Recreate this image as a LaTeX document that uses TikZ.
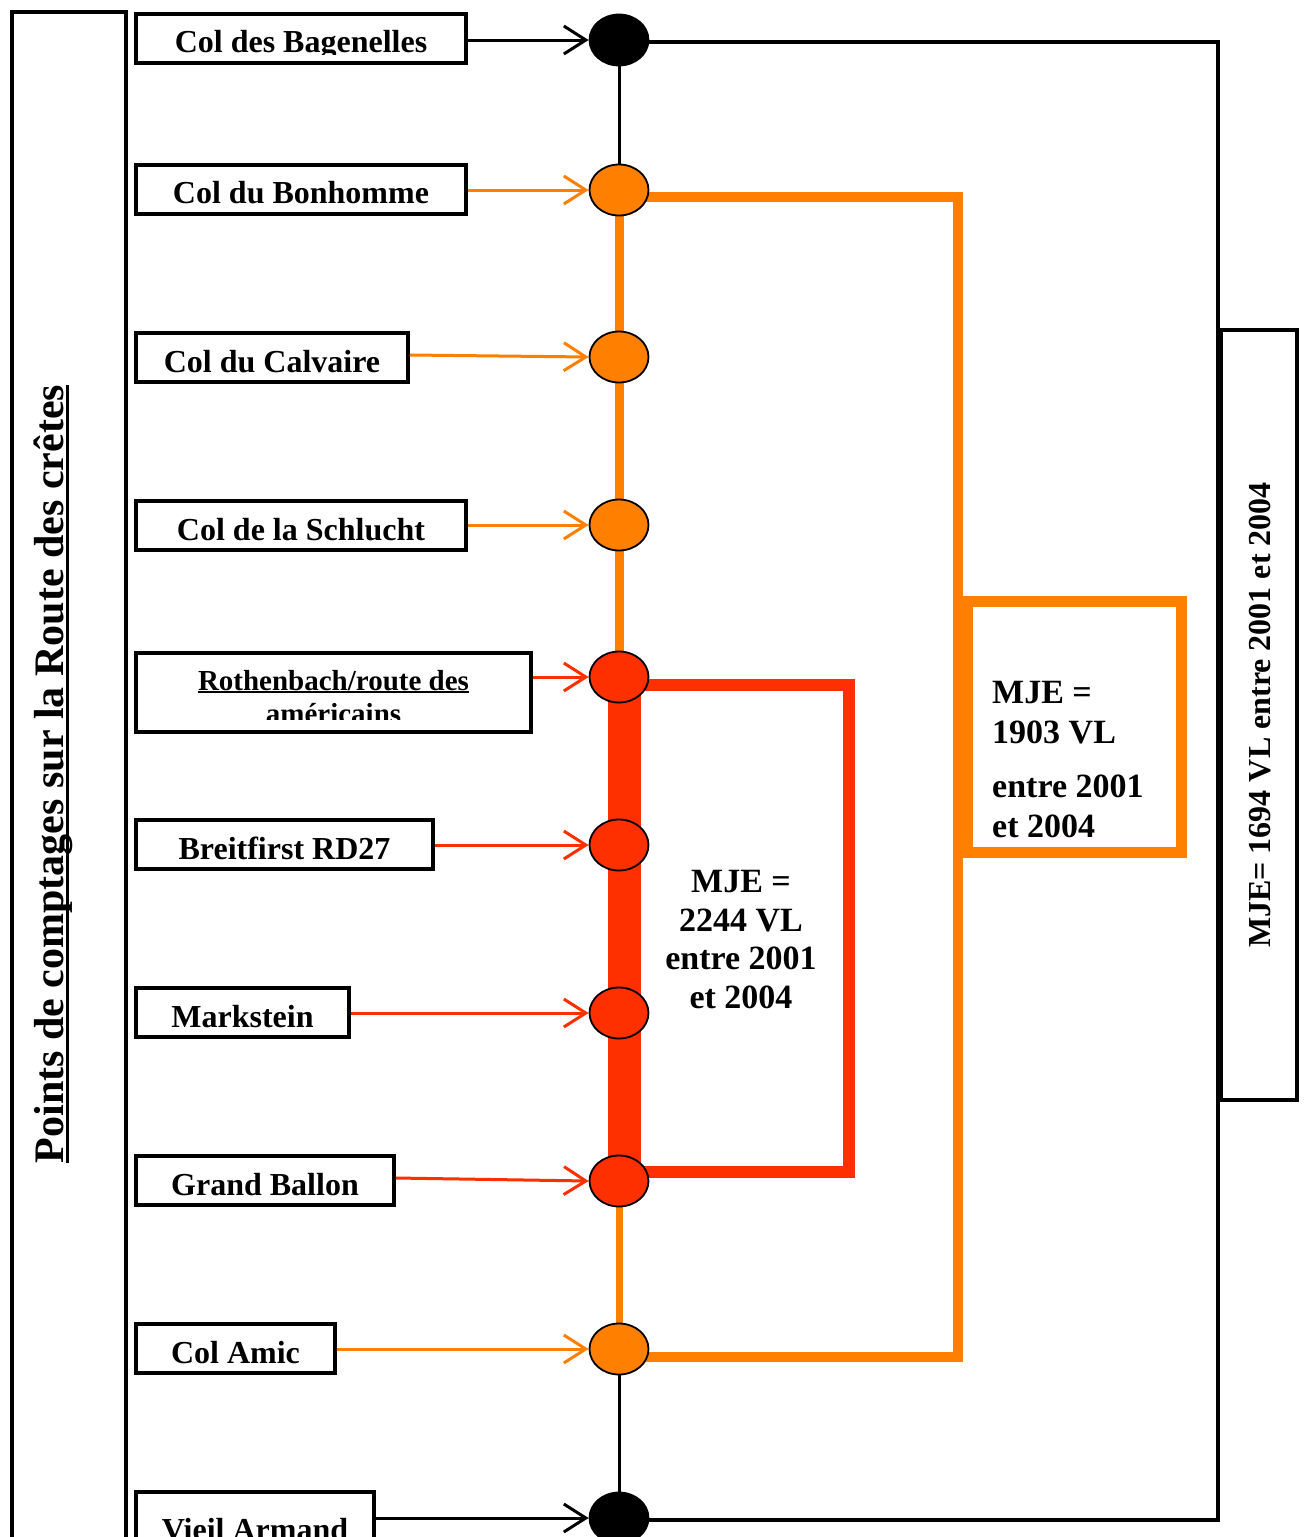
\documentclass[tikz,border=0pt]{standalone}
\usepackage{fontspec}
\setmainfont{Liberation Serif}
\usetikzlibrary{shapes.geometric,arrows.meta}
\definecolor{orng}{RGB}{255,128,0}
\definecolor{rd}{RGB}{255,48,0}
\newcommand\myul[3]{\setbox0\hbox{#3}\rlap{\rule[-#1]{\wd0}{#2}}\box0}
\newcommand\labfont{\fontsize{32}{38}\selectfont\bfseries}
% clipped label: x1, x2, top, baseline, name, text
\newcommand\cliptext[6]{\begin{scope}\clip (#1,#3) rectangle (#2,#4+2);
  \node[anchor=base, inner sep=0pt, font=\labfont] (#5) at ({(#1+#2)/2},#4) {#6};\end{scope}}
\begin{document}
\begin{tikzpicture}[x=1pt,y=-1pt,
  lbox/.style={draw, line width=3.5pt, rectangle, inner sep=0pt},
  pnt/.style={ellipse, draw, line width=1.8pt, minimum width=59pt, minimum height=51pt, inner sep=0pt},
  arr/.style={-{Straight Barb[length=22pt,width=28pt]}, line width=3pt},
  bigtxt/.style={font=\fontsize{34}{38.5}\selectfont\bfseries, inner sep=0pt}]
\useasboundingbox[fill=white] (0,0) rectangle (1304,1537);

% left title box
\node[lbox, line width=4pt, minimum width=114pt, minimum height=1550pt] (tbox) at (69,787) {};
\node[rotate=90, anchor=base, inner sep=0pt, font=\fontsize{42}{48}\selectfont\bfseries] (title) at (63,774)
  {\myul{5.5pt}{3pt}{Points de comptages sur la Route des crêtes}};

% label boxes
\node[lbox, minimum width=330pt, minimum height=49pt] (bag) at (301,38.5) {};
\node[lbox, minimum width=330pt, minimum height=49pt] (bon) at (301,189.5) {};
\node[lbox, minimum width=272pt, minimum height=49pt] (cal) at (272,357.5) {};
\node[lbox, minimum width=330pt, minimum height=49pt] (sch) at (301,525.5) {};
\node[lbox, minimum width=395pt, minimum height=79pt] (rot) at (333.5,692.5) {};
\node[lbox, minimum width=297pt, minimum height=49pt] (bre) at (284.5,844.5) {};
\node[lbox, minimum width=213pt, minimum height=49pt] (mar) at (242.5,1012.5) {};
\node[lbox, minimum width=258pt, minimum height=49pt] (gba) at (265,1180.5) {};
\node[lbox, minimum width=199pt, minimum height=49pt] (ami) at (235.5,1348.5) {};
\node[lbox, minimum width=238pt, minimum height=70pt] (via) at (255,1527) {};

\cliptext{138}{464}{16}{52}{tbag}{Col des Bagenelles}
\cliptext{138}{464}{167}{203}{tbon}{Col du Bonhomme}
\cliptext{138}{406}{335}{372}{tcal}{Col du Calvaire}
\cliptext{138}{464}{503}{540}{tsch}{Col de la Schlucht}
\begin{scope}\clip (138,655) rectangle (529,719);
\node[anchor=north, align=center, inner sep=0pt, font=\fontsize{29}{33}\selectfont\bfseries] (trot) at (333.5,670)
  {\myul{3pt}{2pt}{Rothenbach/route des}\\américains};
\end{scope}
\cliptext{138}{431}{822}{859}{tbre}{Breitfirst RD27}
\cliptext{138}{347}{990}{1027}{tmar}{Markstein}
\cliptext{138}{392}{1158}{1195}{tgba}{Grand Ballon}
\cliptext{138}{333}{1326}{1363}{tami}{Col Amic}
\cliptext{138}{372}{1494}{1540}{tvia}{Vieil Armand}

% spine coordinates
\coordinate (cbag) at (619,40);
\coordinate (cbon) at (619,190);
\coordinate (ccal) at (619,357);
\coordinate (csch) at (619,525);
\coordinate (crot) at (619,677);
\coordinate (cbre) at (619,845);
\coordinate (cmar) at (619,1013);
\coordinate (cgba) at (619,1181);
\coordinate (cami) at (619,1349);
\coordinate (cvia) at (619,1518);

% outer black bracket
\draw[line width=4pt] ([yshift=-2pt]cbag) -- ++(599,0) |- ([yshift=-2pt]cvia);
% right box
\node[lbox, line width=4pt, minimum width=76pt, minimum height=770pt] (rbox) at (1259,715) {};
\node[rotate=90, anchor=base, inner sep=0pt, font=\fontsize{32}{38}\selectfont\bfseries] (rtxt) at (1270,715)
  {MJE= 1694 VL entre 2001 et 2004};

% orange bracket and box
\draw[orng, line width=10pt] ([yshift=-7pt]cbon) -- ++(339,0) |- ([yshift=-8pt]cami);
\node[draw=orng, line width=11pt, rectangle, minimum width=214pt, minimum height=251pt, inner sep=0pt] (obox) at (1074,726.5) {};
\node[bigtxt, anchor=north west, align=left] (otxt) at (992,681)
  {MJE =\\[1.5pt]1903 VL\\[16pt]entre 2001\\[1.5pt]et 2004};

% red bracket
\draw[rd, line width=12pt] (635,685) rectangle (849,1172);
\node[bigtxt, anchor=north, align=center] (rtxt2) at (741,870.5)
  {MJE =\\2244 VL\\entre 2001\\et 2004};

% spine
\draw[line width=3pt] (cbag) -- (cbon);
\draw[orng, line width=9pt] (cbon) -- (crot);
\draw[rd, line width=22pt] (crot) -- (cgba);
\draw[orng, line width=7pt] (cgba) -- (cami);
\draw[line width=3pt] (cami) -- (cvia);

% counting points
\node[pnt, fill=black] (pbag) at (cbag) {};
\node[pnt, fill=orng] (pbon) at (cbon) {};
\node[pnt, fill=orng] (pcal) at (ccal) {};
\node[pnt, fill=orng] (psch) at (csch) {};
\node[pnt, fill=rd] (prot) at (crot) {};
\node[pnt, fill=rd] (pbre) at (cbre) {};
\node[pnt, fill=rd] (pmar) at (cmar) {};
\node[pnt, fill=rd] (pgba) at (cgba) {};
\node[pnt, fill=orng] (pami) at (cami) {};
\node[pnt, fill=black] (pvia) at (cvia) {};

% arrows
\draw[arr] (bag.east |- pbag) -- (pbag.west);
\draw[arr, orng] (bon.east |- pbon) -- (pbon.west);
\draw[arr, orng] (cal.east |- 0,355) -- (pcal.west);
\draw[arr, orng] (sch.east |- psch) -- (psch.west);
\draw[arr, rd] (rot.east |- prot) -- (prot.west);
\draw[arr, rd] (bre.east |- pbre) -- (pbre.west);
\draw[arr, rd] (mar.east |- pmar) -- (pmar.west);
\draw[arr, rd] (gba.east |- 0,1178) -- (pgba.west);
\draw[arr, orng] (ami.east |- pami) -- (pami.west);
\draw[arr] (via.east |- pvia) -- (pvia.west);
\end{tikzpicture}
\end{document}
